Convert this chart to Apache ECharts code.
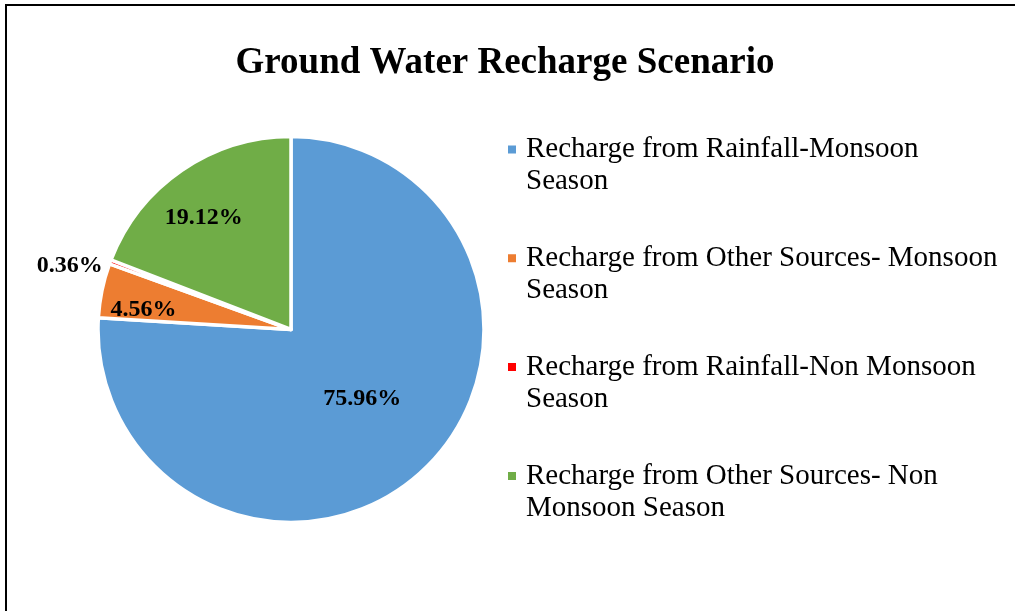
<!DOCTYPE html>
<html>
<head>
<meta charset="utf-8">
<script src="https://cdn.jsdelivr.net/npm/echarts@6/dist/echarts.min.js"></script>
<style>
  html, body { margin: 0; padding: 0; background: #fff; }
  #chart { width: 1015px; height: 611px; }
</style>
</head>
<body>
<div id="chart"></div>
<script>
var titleText = 'Ground Water Recharge Scenario';
var categories = [
  'Recharge from Rainfall-Monsoon Season',
  'Recharge from Other Sources- Monsoon Season',
  'Recharge from Rainfall-Non Monsoon Season',
  'Recharge from Other Sources- Non Monsoon Season'
];
var legendLabels = [
  'Recharge from Rainfall-Monsoon\nSeason',
  'Recharge from Other Sources- Monsoon\nSeason',
  'Recharge from Rainfall-Non Monsoon\nSeason',
  'Recharge from Other Sources- Non\nMonsoon Season'
];
var shares = [75.96, 4.56, 0.36, 19.12];
var colors = ['#5B9BD5', '#ED7D31', '#FF0000', '#70AD47'];
var labelOffsets = [[3, -3], [-50, 0], [-128, -29], [-31, -30]];

var serif = '"Liberation Serif", "Times New Roman", "DejaVu Serif", serif';

var pieData = categories.map(function (name, i) {
  return {
    name: name,
    value: shares[i],
    itemStyle: { color: colors[i] },
    label: { offset: labelOffsets[i] }
  };
});

var chart = echarts.init(document.getElementById('chart'), null, { renderer: 'canvas' });
chart.setOption({
  backgroundColor: '#ffffff',
  animation: false,
  title: {
    text: titleText,
    left: 505,
    textAlign: 'center',
    top: 45,
    padding: 0,
    textStyle: {
      fontFamily: serif,
      fontSize: 37,
      fontWeight: 'bold',
      color: '#000000'
    }
  },
  legend: {
    orient: 'vertical',
    left: 506,
    top: 101.5,
    padding: 0,
    itemWidth: 14,
    itemHeight: 10,
    itemGap: 12.8,
    icon: 'path://M0,0L10,0L10,10L0,10Z M14,10',
    data: categories,
    formatter: function (name) {
      return '\n' + legendLabels[categories.indexOf(name)];
    },
    textStyle: {
      fontFamily: serif,
      fontSize: 29,
      lineHeight: 32,
      color: '#000000'
    }
  },
  graphic: [{
    type: 'rect',
    shape: { x: 6, y: 5, width: 1100, height: 700 },
    style: { fill: 'none', stroke: '#000000', lineWidth: 2 },
    silent: true
  }],
  series: [{
    type: 'pie',
    center: [291, 329.5],
    radius: [0, 193],
    startAngle: 90,
    clockwise: true,
    avoidLabelOverlap: false,
    minShowLabelAngle: 0,
    itemStyle: { borderColor: '#ffffff', borderWidth: 3.5 },
    emphasis: { disabled: true },
    label: {
      show: true,
      position: 'inside',
      formatter: function (p) { return p.value.toFixed(2) + '%'; },
      fontFamily: serif,
      fontSize: 24,
      fontWeight: 'bold',
      color: '#000000'
    },
    labelLine: { show: false },
    data: pieData
  }]
});
</script>
</body>
</html>
